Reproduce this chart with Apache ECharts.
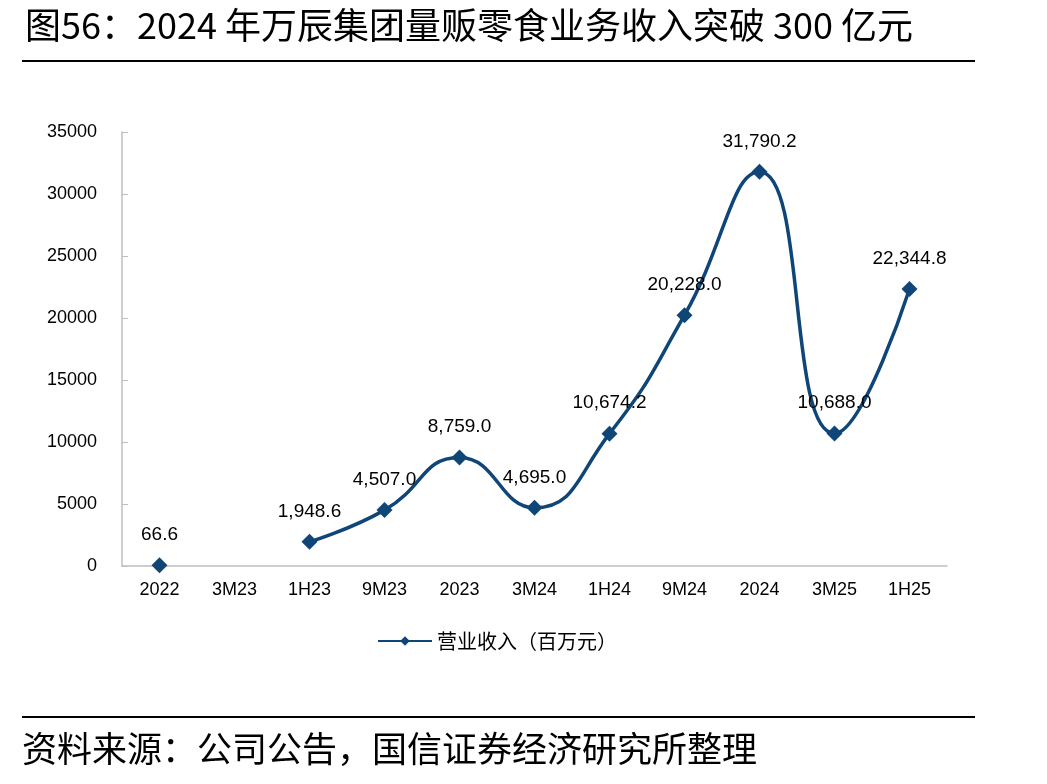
<!DOCTYPE html>
<html>
<head>
    <meta charset="utf-8">
    <title>万辰集团量贩零食业务收入</title>
    <script src="https://cdn.jsdelivr.net/npm/echarts@6/dist/echarts.min.js"></script>
    <style>
        html, body {margin: 0; padding: 0; background: #fff;}
    </style>
</head>
<body>
<div id="main" style="width: 1047px;height:784px;"></div>

<script>
    // 数据
    var categories = ['2022', '3M23', '1H23', '9M23', '2023', '3M24', '1H24', '9M24', '2024', '3M25', '1H25'];
    var revenue = [66.6, null, 1948.6, 4507.0, 8759.0, 4695.0, 10674.2, 20228.0, 31790.2, 10688.0, 22344.8];
    var yTicks = [0, 5000, 10000, 15000, 20000, 25000, 30000, 35000];
    var seriesName = '营业收入（百万元）';

    var lineColor = '#0f4677';
    var cjk = '"Noto Sans CJK SC", sans-serif';
    var latin = '"Liberation Sans", Arial, sans-serif';

    var myChart = echarts.init(document.getElementById('main'));

    var option = {
        backgroundColor: '#fff',
        animation: false,
        title: {
            text: '图56：2024 年万辰集团量贩零食业务收入突破 300 亿元',
            left: 20,
            top: 2,
            textStyle: {fontFamily: cjk, fontSize: 36, fontWeight: 'normal', color: '#000'}
        },
        graphic: [
            {type: 'line', shape: {x1: 22, y1: 61, x2: 975, y2: 61}, style: {stroke: '#000', lineWidth: 2}},
            {type: 'line', shape: {x1: 22, y1: 717, x2: 975, y2: 717}, style: {stroke: '#000', lineWidth: 2}},
            {
                type: 'text', left: 22, top: 731,
                style: {text: '资料来源：公司公告，国信证券经济研究所整理', font: '35px ' + cjk, fill: '#000'}
            }
        ],
        legend: {
            data: [seriesName],
            left: 372,
            top: 626,
            itemWidth: 54,
            itemHeight: 12,
            itemGap: 10,
            textStyle: {fontFamily: cjk, fontSize: 20, color: '#000'}
        },
        grid: {left: 122, right: 100, top: 132, bottom: 218},
        xAxis: {
            type: 'category',
            data: categories,
            boundaryGap: true,
            axisLine: {lineStyle: {color: '#bfbfbf', width: 1.5}},
            axisTick: {show: false},
            axisLabel: {fontFamily: latin, fontSize: 18, color: '#000', margin: 15}
        },
        yAxis: {
            type: 'value',
            min: yTicks[0],
            max: yTicks[yTicks.length - 1],
            interval: 5000,
            splitLine: {show: false},
            axisLine: {show: true, lineStyle: {color: '#bfbfbf', width: 1.5}},
            axisTick: {show: true, inside: true, length: 6, lineStyle: {color: '#bfbfbf'}},
            axisLabel: {
                fontFamily: latin, fontSize: 18, color: '#000', margin: 25,
                formatter: function (v) { return String(v); }
            }
        },
        series: [{
            name: seriesName,
            type: 'line',
            data: revenue,
            smooth: 0.5,
            connectNulls: false,
            symbol: 'diamond',
            symbolSize: 16,
            color: lineColor,
            lineStyle: {color: lineColor, width: 3.5},
            itemStyle: {color: lineColor},
            label: {
                show: true,
                position: 'top',
                distance: 13,
                fontFamily: latin,
                fontSize: 19,
                color: '#000',
                formatter: function (p) {
                    return p.value.toLocaleString('en-US', {minimumFractionDigits: 1, maximumFractionDigits: 1});
                }
            }
        }]
    };

    myChart.setOption(option);
</script>
</body>
</html>
